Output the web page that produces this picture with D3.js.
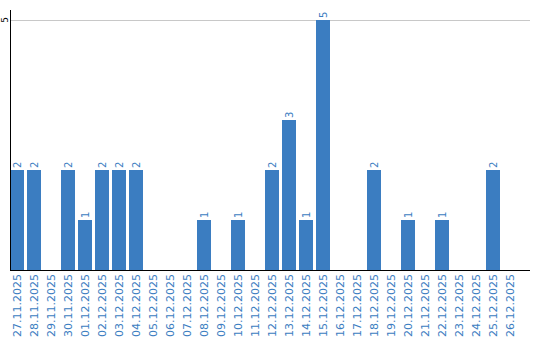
<!DOCTYPE html>
<html><head><meta charset="utf-8">
<script src="https://cdn.jsdelivr.net/npm/d3@7"></script>
<style>body{margin:0;background:#fff}svg{display:block}</style>
</head><body>
<script>
const categories = ["27.11.2025","28.11.2025","29.11.2025","30.11.2025","01.12.2025","02.12.2025","03.12.2025","04.12.2025","05.12.2025","06.12.2025","07.12.2025","08.12.2025","09.12.2025","10.12.2025","11.12.2025","12.12.2025","13.12.2025","14.12.2025","15.12.2025","16.12.2025","17.12.2025","18.12.2025","19.12.2025","20.12.2025","21.12.2025","22.12.2025","23.12.2025","24.12.2025","25.12.2025","26.12.2025"];
const values = [2,2,0,2,1,2,2,2,0,0,0,1,0,1,0,2,3,1,5,0,0,2,0,1,0,1,0,0,2,0];
const yTicks = [5];

const W = 540, H = 340;
const color = "#3b7dc1";
const svg = d3.select("body").append("svg").attr("width", W).attr("height", H);

const x = d3.scaleBand().domain(categories).range([10, 520])
  .paddingInner(3/17).paddingOuter(3/34).align(0);
const y = d3.scaleLinear().domain([0, 5]).range([270, 20]);

// gridline
svg.append("g").selectAll("line").data(yTicks).join("line")
  .attr("x1", 10).attr("x2", 530)
  .attr("y1", d => y(d) + 0.5).attr("y2", d => y(d) + 0.5)
  .attr("stroke", "#c8c8c8").attr("stroke-width", 1);

// bars
svg.append("g").selectAll("rect").data(values).join("rect")
  .attr("x", (d, i) => x(categories[i]))
  .attr("width", x.bandwidth())
  .attr("y", d => y(d))
  .attr("height", d => y(0) - y(d))
  .attr("fill", color);

// value labels
svg.append("g").selectAll("text").data(values.map((v, i) => ({v, c: categories[i]})).filter(d => d.v > 0)).join("text")
  .attr("transform", d => `translate(${x(d.c) + x.bandwidth()/2},${y(d.v) - 2}) rotate(-90)`)
  .attr("dy", "0.35em")
  .attr("text-anchor", "start")
  .attr("font-family", "DejaVu Sans, Verdana, sans-serif")
  .attr("font-size", 10)
  .attr("fill", color)
  .text(d => d.v);

// axes lines
svg.append("line").attr("x1", 10.5).attr("x2", 10.5).attr("y1", 10).attr("y2", 270).attr("stroke", "#000");
svg.append("line").attr("x1", 10).attr("x2", 530).attr("y1", 270.5).attr("y2", 270.5).attr("stroke", "#000");

// y tick labels
svg.append("g").selectAll("text").data(yTicks).join("text")
  .attr("transform", d => `translate(5,${y(d)}) rotate(-90)`)
  .attr("text-anchor", "middle")
  .attr("dy", "0.35em")
  .attr("font-family", "DejaVu Sans, Verdana, sans-serif")
  .attr("font-size", 9)
  .attr("fill", "#000")
  .text(d => d);

// x labels
svg.append("g").selectAll("text").data(categories).join("text")
  .attr("transform", d => `translate(${x(d) + x.bandwidth()/2},274) rotate(-90)`)
  .attr("text-anchor", "end")
  .attr("dy", "0.35em")
  .attr("font-family", "DejaVu Sans, Verdana, sans-serif")
  .attr("font-size", 11)
  .attr("fill", color)
  .text(d => d);
</script>
</body></html>
